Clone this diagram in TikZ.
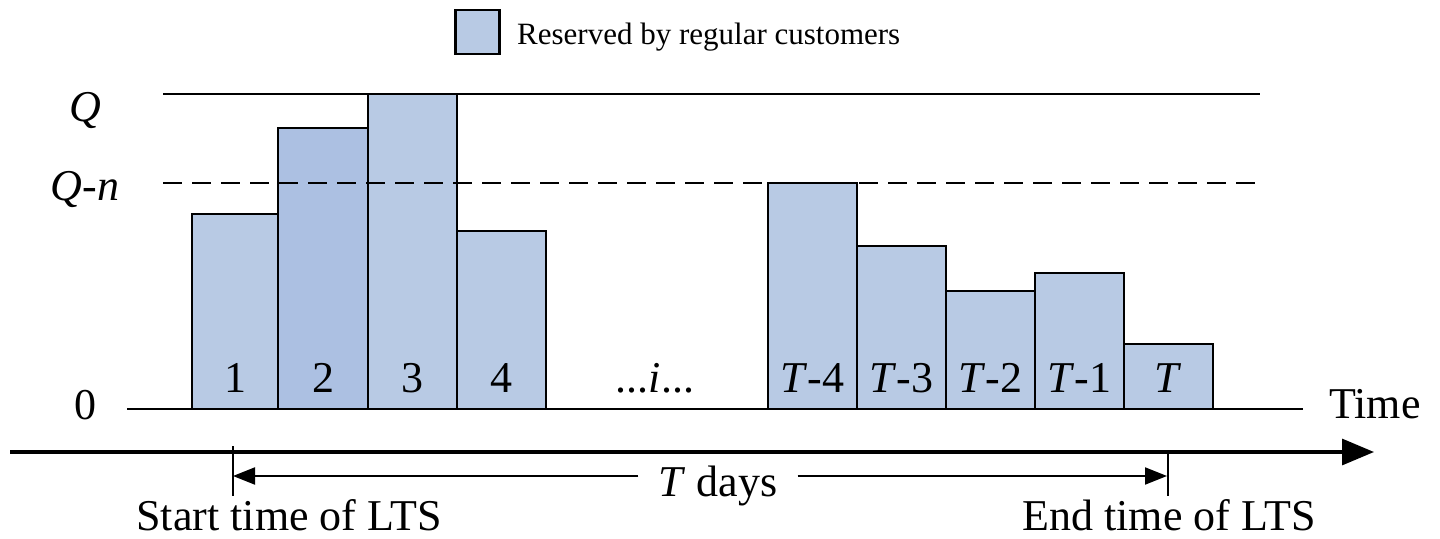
\documentclass[tikz,border=0pt]{standalone}
\usepackage{fontspec}
\setmainfont{Liberation Serif}
\usetikzlibrary{arrows.meta}
\definecolor{barfill}{RGB}{184,202,228}
\definecolor{barfilldark}{RGB}{172,192,226}
\tikzset{
  bar/.style={draw=black, line width=1.9pt, fill=barfill},
  axisline/.style={line width=1.9pt},
  lbl/.style={font=\fontsize{44}{50}\selectfont, inner sep=0pt, anchor=base},
  smalllbl/.style={font=\fontsize{31}{36}\selectfont, inner sep=0pt, anchor=base west},
  bigarrow/.style={line width=3.2pt, -{Triangle[length=32pt,width=26pt]}},
  spanarrow/.style={line width=1.9pt, -{Triangle[length=22pt,width=17pt]}},
}
\begin{document}
\begin{tikzpicture}[x=1pt,y=-1pt]
\useasboundingbox (0,0) rectangle (1440,538);

% legend
\node[bar, line width=2.4pt, minimum width=44pt, minimum height=44pt, inner sep=0pt] (legbox) at (477.5,32) {};
\node[smalllbl] (legtext) at (517,44) {Reserved by regular customers};

% day axis
\coordinate (axL) at (127,409);
\coordinate (axR) at (1303,409);
\draw[axisline] (axL) -- (axR);

% bars
\draw[bar] (192,409) rectangle (278,214);
\draw[bar, fill=barfilldark] (278,409) rectangle (368,128);
\draw[bar] (368,409) rectangle (457,94);
\draw[bar] (457,409) rectangle (546,231);
\draw[bar] (768,409) rectangle (857,183);
\draw[bar] (857,409) rectangle (946,246);
\draw[bar] (946,409) rectangle (1035,291);
\draw[bar] (1035,409) rectangle (1124,273);
\draw[bar] (1124,409) rectangle (1213,344);

% capacity levels, drawn over the bars
\coordinate (qL) at (163,94);
\coordinate (qR) at (1260,94);
\coordinate (qnL) at (163,183);
\coordinate (qnR) at (1258,183);
\draw[axisline] (qL) -- (qR);
\draw[axisline, dash pattern=on 19pt off 10pt] (qnL) -- (qnR);

% bar labels
\node[lbl] (d1) at (235,392) {1};
\node[lbl] (d2) at (323,392) {2};
\node[lbl] (d3) at (412.5,392) {3};
\node[lbl] (d4) at (501.5,392) {4};
\node[lbl] (di) at (655,392) {...\textit{i}...};
\node[lbl] (dT4) at (812.5,392) {\textit{T}-4};
\node[lbl] (dT3) at (901.5,392) {\textit{T}-3};
\node[lbl] (dT2) at (990.5,392) {\textit{T}-2};
\node[lbl] (dT1) at (1079.5,392) {\textit{T}-1};
\node[lbl] (dT) at (1168.5,392) {\textit{T}};

% level labels
\node[lbl] (lq) at (85,121) {\textit{Q}};
\node[lbl] (lqn) at (85,200) {\textit{Q}-\textit{n}};
\node[lbl] (l0) at (85,419) {0};
\node[lbl] (ltime) at (1375,418) {Time};

% time line
\coordinate (tL) at (10,452);
\coordinate (tR) at (1374,452);
\draw[bigarrow] (tL) -- (tR);

% start / end ticks
\coordinate (sTop) at (233,446);
\coordinate (sBot) at (233,496);
\coordinate (eTop) at (1168,452);
\coordinate (eBot) at (1168,496);
\draw[axisline] (sTop) -- (sBot);
\draw[axisline] (eTop) -- (eBot);

% span of T days
\node[font=\fontsize{44}{50}\selectfont, inner ysep=0pt, inner xsep=20pt] (tdays) at (718,486) {\textit{T} days};
\coordinate (spanL) at (233,476);
\coordinate (spanR) at (1167,476);
\draw[spanarrow] (tdays.west |- spanL) -- (spanL);
\draw[spanarrow] (tdays.east |- spanR) -- (spanR);

\node[lbl] (lstart) at (289,530) {Start time of LTS};
\node[lbl] (lend) at (1169,530) {End time of LTS};
\end{tikzpicture}
\end{document}
